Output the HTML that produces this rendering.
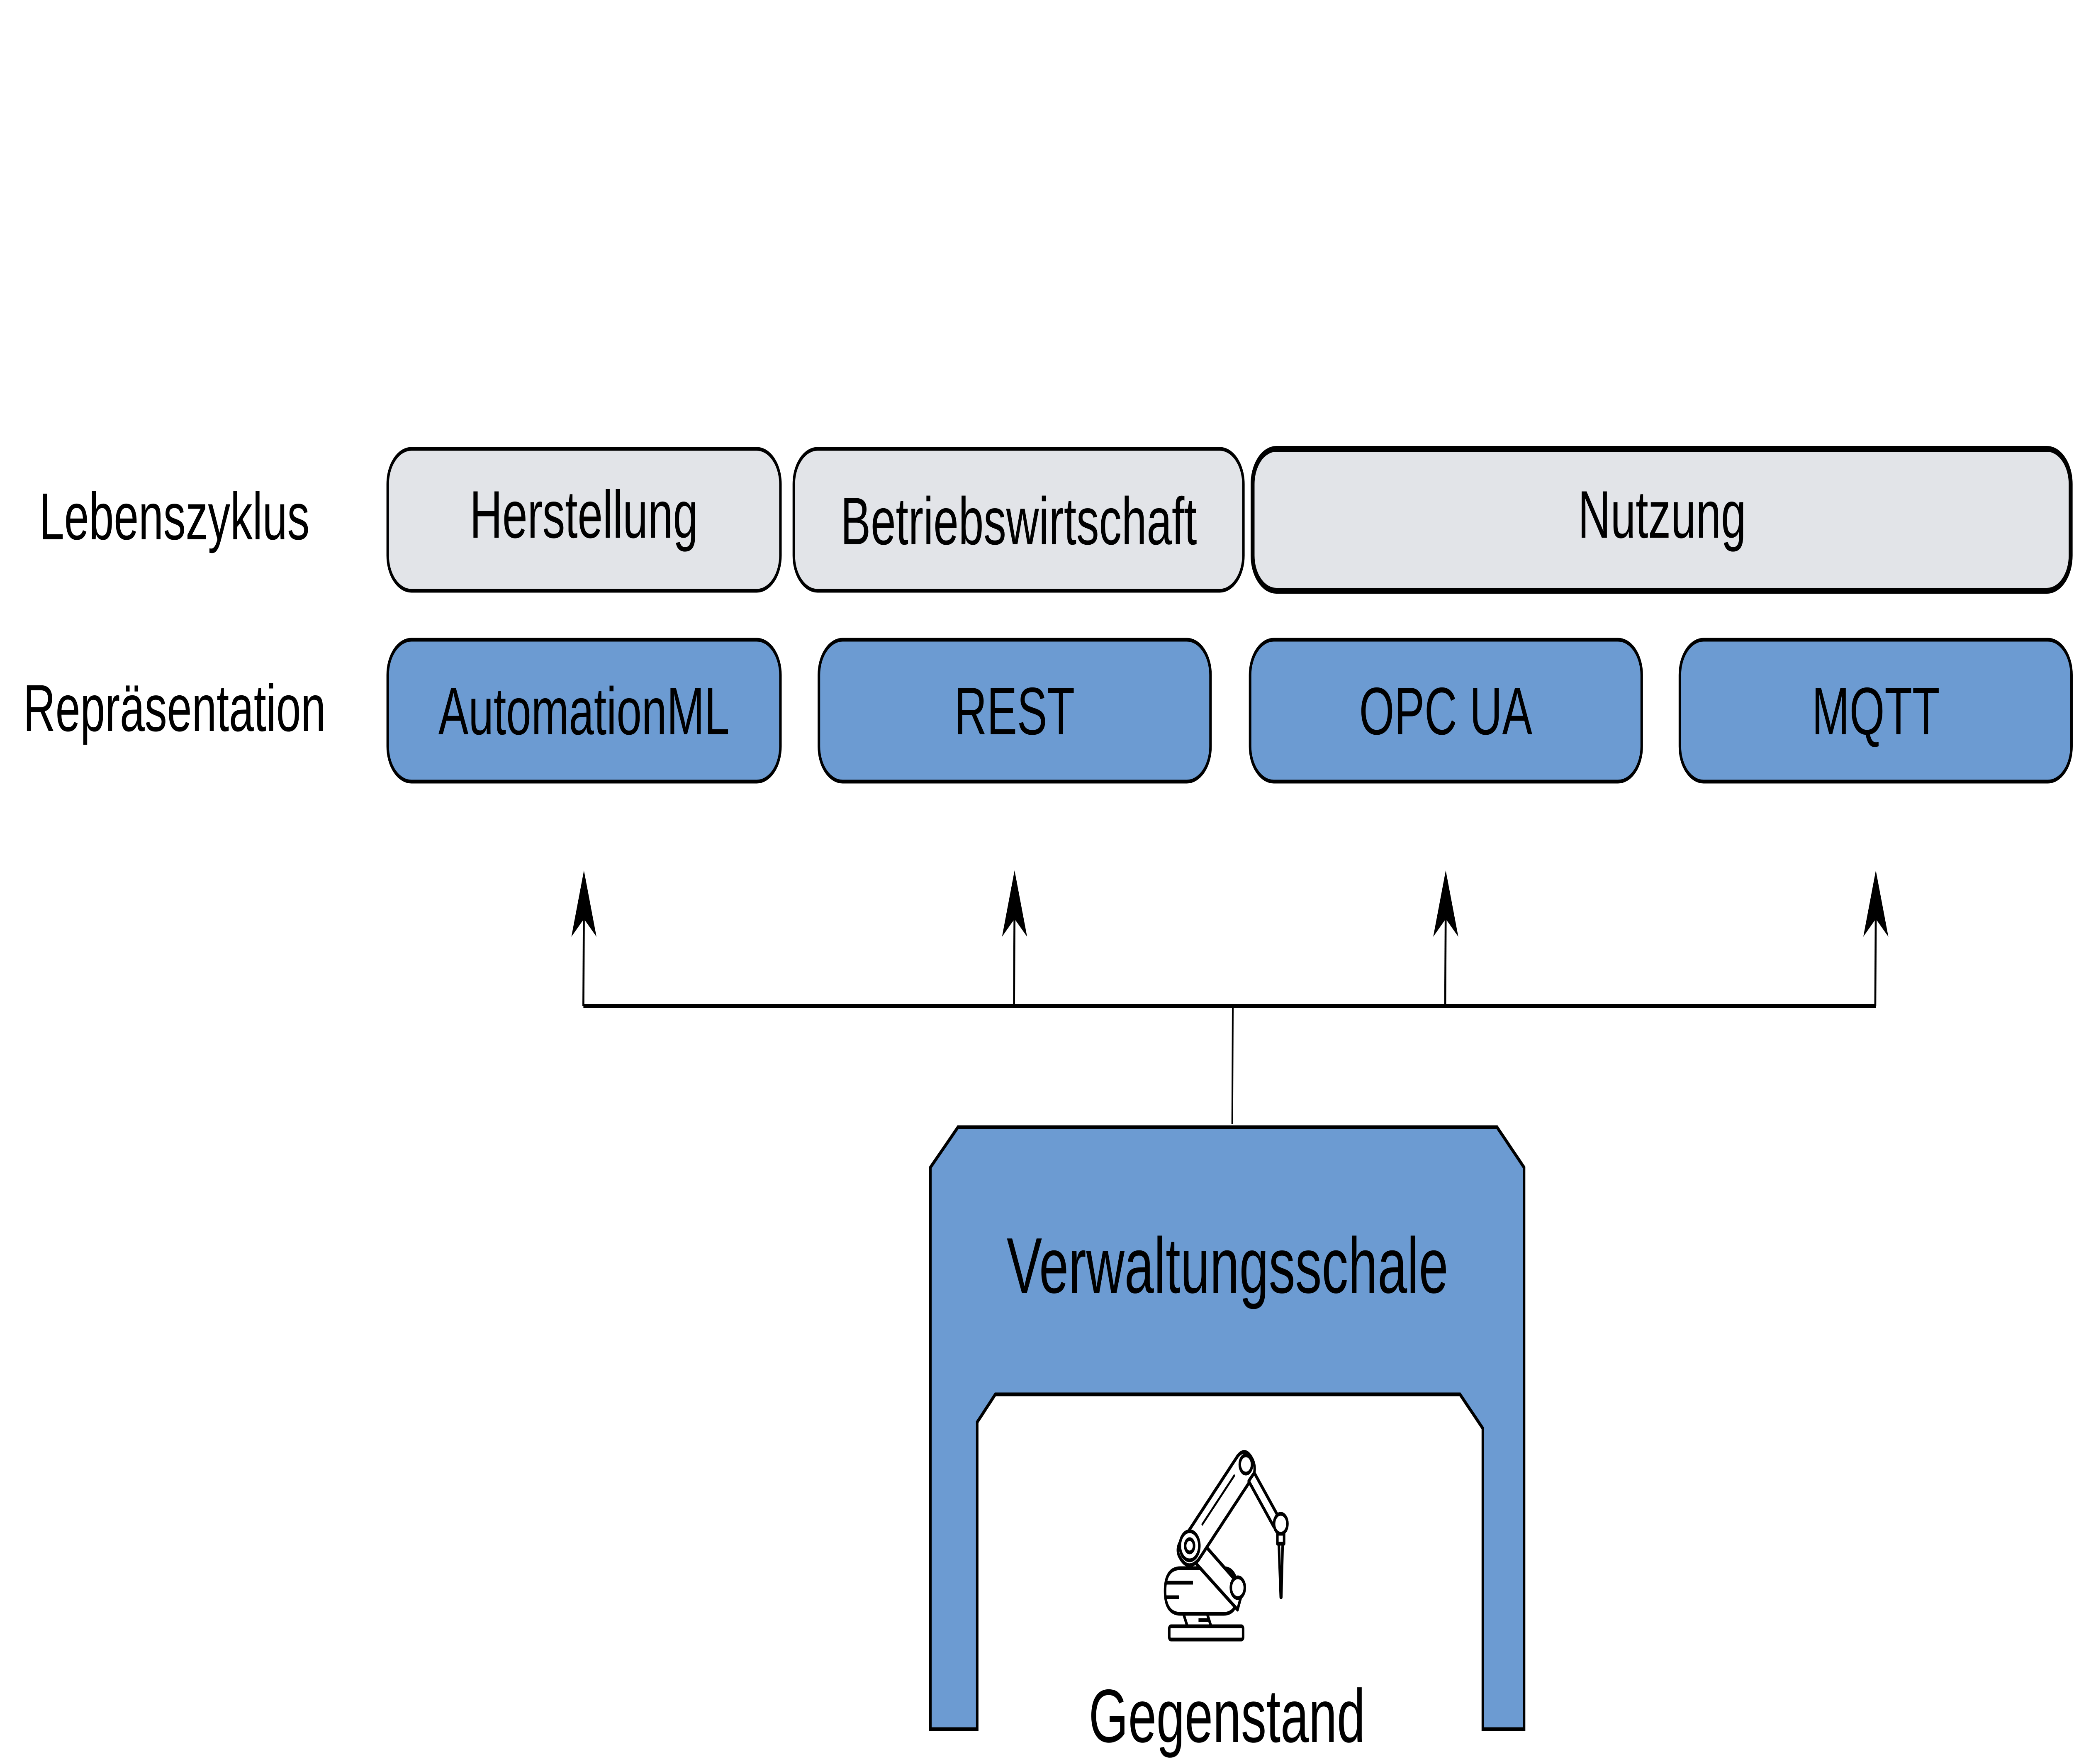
<!DOCTYPE html>
<html><head><meta charset="utf-8"><style>
html,body{margin:0;padding:0;background:#fff;overflow:hidden;width:100%;height:100%;}
svg{display:block;width:100vw;height:100vh;}
text{font-family:"Liberation Sans",Arial,sans-serif;fill:#000;}
</style></head><body>
<svg viewBox="0 0 7441 4252" preserveAspectRatio="none" xmlns="http://www.w3.org/2000/svg">
<rect width="7441" height="4252" fill="#fff"/>
<text x="626" y="1300" font-size="160" text-anchor="middle">Lebenszyklus</text>
<text x="626" y="1762" font-size="160" text-anchor="middle">Repräsentation</text>
<g stroke="#000" stroke-width="9" fill="#e2e4e8">
<rect x="1391" y="1082" width="1409" height="342" rx="85"/>
<rect x="2848" y="1082" width="1613" height="342" rx="85"/>
<rect x="4494" y="1082" width="2935" height="342" rx="85" stroke-width="14"/>
</g>
<g font-size="162" text-anchor="middle">
<text x="2095" y="1296">Herstellung</text>
<text x="3655" y="1312">Betriebswirtschaft</text>
<text x="5963" y="1296">Nutzung</text>
</g>
<g stroke="#000" stroke-width="9" fill="#6c9bd2">
<rect x="1391" y="1542" width="1409" height="342" rx="85"/>
<rect x="2938" y="1542" width="1405" height="342" rx="85"/>
<rect x="4485" y="1542" width="1405" height="342" rx="85"/>
<rect x="6027" y="1542" width="1405" height="342" rx="85"/>
</g>
<g font-size="162" text-anchor="middle">
<text x="2095" y="1770">AutomationML</text>
<text x="3640" y="1770">REST</text>
<text x="5187" y="1770">OPC UA</text>
<text x="6730" y="1770">MQTT</text>
</g>
<g stroke="#000" fill="none">
<line x1="2093" y1="2425" x2="6730" y2="2425" stroke-width="10"/>
<line x1="4423" y1="2425" x2="4421" y2="2710" stroke-width="6"/>
<line x1="2093" y1="2425" x2="2095" y2="2180" stroke-width="7"/>
<line x1="3638" y1="2425" x2="3640" y2="2180" stroke-width="7"/>
<line x1="5185" y1="2425" x2="5187" y2="2180" stroke-width="7"/>
<line x1="6728" y1="2425" x2="6730" y2="2180" stroke-width="7"/>
</g>
<g fill="#000">
<polygon points="2095,2098 2050,2258 2095,2215 2140,2258"/>
<polygon points="3640,2098 3595,2258 3640,2215 3685,2258"/>
<polygon points="5187,2098 5142,2258 5187,2215 5232,2258"/>
<polygon points="6730,2098 6685,2258 6730,2215 6775,2258"/>
</g>
<polygon points="3437,2717 5371,2717 5468,2814 5468,4168 5320,4168 5320,3443 5238,3361 3571,3361 3506,3428 3506,4168 3338,4168 3338,2814" fill="#6c9bd2" stroke="#000" stroke-width="9"/>
<text x="4404" y="3116" font-size="190" text-anchor="middle">Verwaltungsschale</text>
<text x="4402" y="4199" font-size="182" text-anchor="middle">Gegenstand</text>
<g stroke="#000" stroke-width="9" fill="#fff" stroke-linejoin="round">
<rect x="4195" y="3920" width="265" height="32" rx="6"/>
<polygon points="4245,3888 4330,3888 4345,3920 4260,3920"/>
<path d="M4180,3835 Q4180,3780 4235,3780 L4390,3780 Q4440,3780 4440,3840 Q4440,3890 4390,3890 L4235,3890 Q4180,3890 4180,3835 Z"/>
<line x1="4180" y1="3815" x2="4280" y2="3815"/>
<line x1="4180" y1="3850" x2="4230" y2="3850"/>
<line x1="4300" y1="3905" x2="4335" y2="3905"/>
<path d="M4250,3738 L4440,3880 L4460,3830 L4290,3700 Z"/>
<circle cx="4441" cy="3827" r="25"/>
<path d="M4255,3700 L4440,3510 Q4470,3485 4495,3520 Q4510,3545 4490,3565 L4300,3760 Q4260,3790 4230,3750 Q4215,3725 4255,3700 Z"/>
<circle cx="4268" cy="3726" r="35"/>
<circle cx="4268" cy="3726" r="16"/>
<circle cx="4470" cy="3530" r="22"/>
<line x1="4312" y1="3676" x2="4430" y2="3555" stroke-width="6"/>
<polygon points="4480,3570 4500,3550 4590,3660 4570,3680"/>
<circle cx="4595" cy="3673" r="24"/>
<rect x="4583" y="3697" width="24" height="24"/>
<polygon points="4588,3721 4602,3721 4597,3850 4595,3850"/>
</g>
</svg>
</body></html>
